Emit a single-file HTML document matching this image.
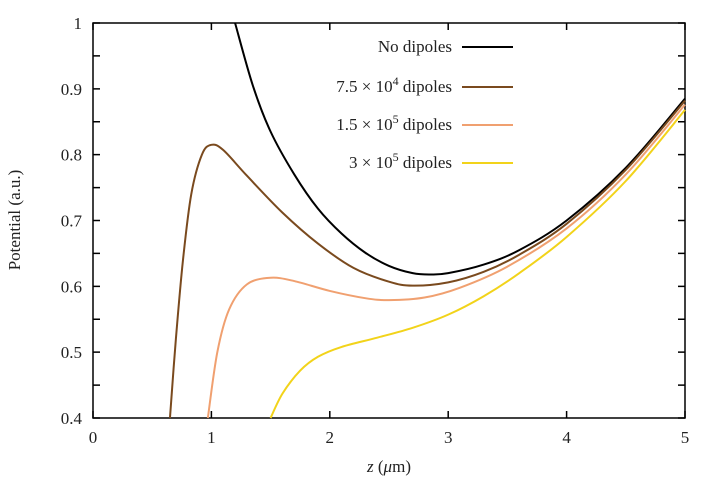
<!DOCTYPE html><html><head><style>body{margin:0;background:#fff}svg{display:block}text{font-family:"Liberation Serif",serif;font-size:17px;fill:#222}</style></head><body>
<svg id="s" width="719" height="479" xmlns="http://www.w3.org/2000/svg">
<g id="ax" stroke="#000" stroke-width="1.5" fill="none"></g>
<g id="cv" fill="none" stroke-width="2"></g>
<g id="tx"></g>
<text x="452" y="52" text-anchor="end">No dipoles</text>
<text x="452" y="92" text-anchor="end">7.5 × 10<tspan dy="-7" font-size="12">4</tspan><tspan dy="7"> dipoles</tspan></text>
<text x="452" y="130" text-anchor="end">1.5 × 10<tspan dy="-7" font-size="12">5</tspan><tspan dy="7"> dipoles</tspan></text>
<text x="452" y="168" text-anchor="end">3 × 10<tspan dy="-7" font-size="12">5</tspan><tspan dy="7"> dipoles</tspan></text>
<line x1="462" x2="513" y1="47" y2="47" stroke="#000" stroke-width="2"/>
<line x1="462" x2="513" y1="87" y2="87" stroke="#7a4a1e" stroke-width="2"/>
<line x1="462" x2="513" y1="125" y2="125" stroke="#f0a070" stroke-width="2"/>
<line x1="462" x2="513" y1="163" y2="163" stroke="#f2d31a" stroke-width="2"/>
<text x="389" y="472" text-anchor="middle"><tspan font-style="italic">z</tspan> (<tspan font-style="italic">μ</tspan>m)</text>
<text transform="translate(20,220) rotate(-90)" text-anchor="middle">Potential (a.u.)</text>
</svg>
<script>
var X0=93,X1=685,Y0=418,Y1=23;
function px(x){return X0+(X1-X0)*x/5}function py(y){return Y0-(Y0-Y1)*(y-0.4)/0.6}
var ax=document.getElementById('ax'),tx=document.getElementById('tx'),h='',t='';
h+='<rect x="'+X0+'" y="'+Y1+'" width="'+(X1-X0)+'" height="'+(Y0-Y1)+'"/>';
for(var i=0;i<=5;i++){var x=px(i);h+='<path d="M'+x+' '+Y0+'v-7M'+x+' '+Y1+'v7"/>';t+='<text x="'+x+'" y="443" text-anchor="middle">'+i+'</text>';}
for(var k=0;k<=12;k++){var v=0.4+k*0.05,y=py(v);h+='<path d="M'+X0+' '+y+'h7M'+X1+' '+y+'h-7"/>';if(k%2==0){var lab=(k==12?'1':v.toFixed(1));t+='<text x="82" y="'+(y+6)+'" text-anchor="end">'+lab+'</text>';}}
ax.innerHTML=h;tx.innerHTML=t;
var S=[["#000",[[1.2,1.0],[1.35,0.905],[1.5,0.835],[1.7,0.77],[1.9,0.718],[2.1,0.68],[2.3,0.651],[2.5,0.631],[2.7,0.62],[2.85,0.618],[3.0,0.62],[3.3,0.633],[3.6,0.655],[4.0,0.70],[4.5,0.78],[5.0,0.885]]],
["#7a4a1e",[[0.65,0.4],[0.7,0.52],[0.76,0.64],[0.83,0.74],[0.92,0.8],[1.0,0.815],[1.1,0.807],[1.3,0.768],[1.6,0.712],[1.9,0.665],[2.2,0.628],[2.5,0.607],[2.7,0.601],[3.0,0.606],[3.3,0.622],[3.6,0.648],[4.0,0.695],[4.5,0.777],[5.0,0.882]]],
["#f0a070",[[0.97,0.4],[1.05,0.5],[1.15,0.565],[1.3,0.603],[1.5,0.613],[1.7,0.608],[2.0,0.593],[2.3,0.582],[2.5,0.579],[2.8,0.583],[3.1,0.598],[3.5,0.63],[4.0,0.688],[4.5,0.77],[5.0,0.876]]],
["#f2d31a",[[1.5,0.4],[1.6,0.437],[1.75,0.472],[1.9,0.493],[2.1,0.508],[2.4,0.522],[2.7,0.537],[3.0,0.557],[3.3,0.585],[3.6,0.62],[4.0,0.675],[4.5,0.76],[5.0,0.868]]]];
var c='';S.forEach(function(s){var p=s[1].map(function(q){return[px(q[0]),py(q[1])]});var d='M'+p[0][0]+' '+p[0][1];
for(var i=0;i<p.length-1;i++){var a=p[Math.max(i-1,0)],b=p[i],e=p[i+1],f=p[Math.min(i+2,p.length-1)];
d+='C'+(b[0]+(e[0]-a[0])/6)+' '+(b[1]+(e[1]-a[1])/6)+' '+(e[0]-(f[0]-b[0])/6)+' '+(e[1]-(f[1]-b[1])/6)+' '+e[0]+' '+e[1];}
c+='<path stroke="'+s[0]+'" d="'+d+'"/>';});
document.getElementById('cv').innerHTML=c;
</script></body></html>
